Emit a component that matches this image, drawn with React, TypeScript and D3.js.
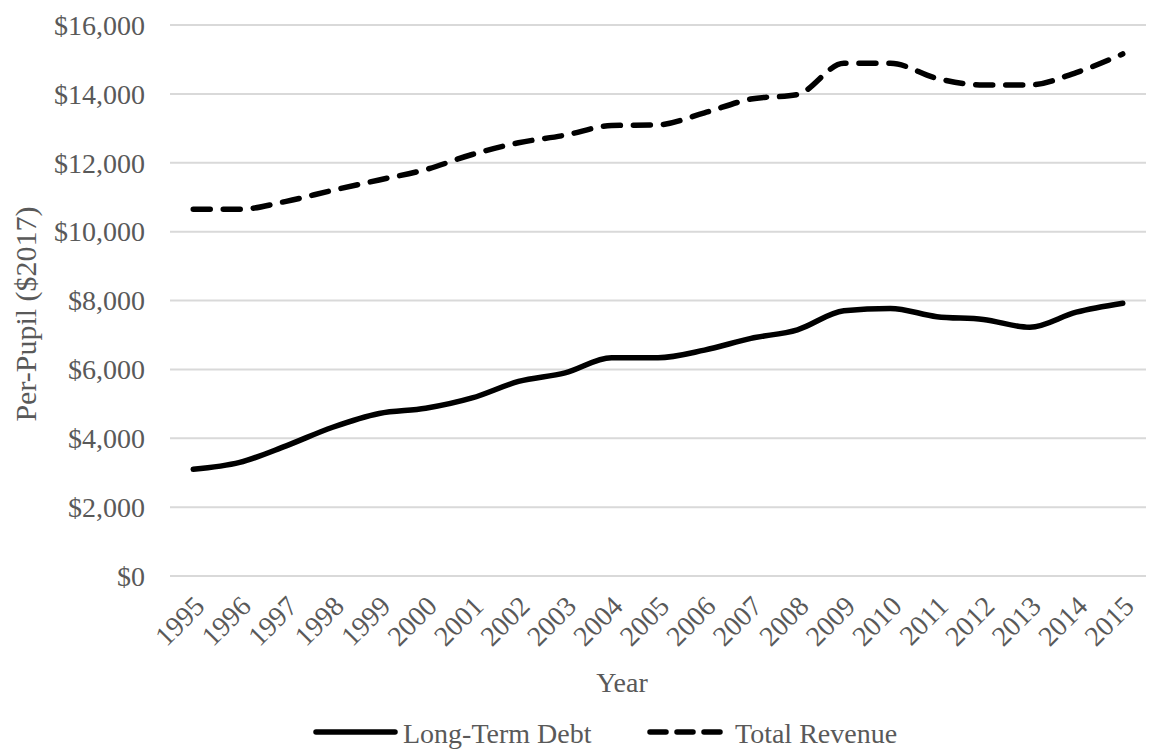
import React from "react";
import * as d3 from "d3";

const years = ["1995","1996","1997","1998","1999","2000","2001","2002","2003","2004","2005","2006","2007","2008","2009","2010","2011","2012","2013","2014","2015"];
const longTermDebt = [3100, 3300, 3780, 4320, 4720, 4870, 5170, 5650, 5900, 6340, 6340, 6560, 6900, 7150, 7700, 7770, 7530, 7450, 7220, 7660, 7920];
const totalRevenue = [10650, 10650, 10880, 11200, 11500, 11800, 12240, 12580, 12800, 13080, 13100, 13450, 13850, 13980, 14890, 14890, 14450, 14260, 14260, 14620, 15160];
const yTicks = [0, 2000, 4000, 6000, 8000, 10000, 12000, 14000, 16000];
const yTitle = "Per-Pupil ($2017)";
const xTitle = "Year";
const seriesNames = ["Long-Term Debt", "Total Revenue"];

const W = 1152, H = 751;
const FONT = "'Liberation Serif', 'Times New Roman', serif";
const TXT = "#595959";

export default function App() {
  const x = d3.scaleBand<string>().domain(years).range([170, 1146]).padding(0);
  const y = d3.scaleLinear().domain([0, 16000]).range([576, 25]);
  const cx = (d: string) => (x(d) as number) + x.bandwidth() / 2;
  const line = d3.line<number>().x((_, i) => cx(years[i])).y((v) => y(v)).curve(d3.curveMonotoneX);
  const fmt = (v: number) => "$" + d3.format(",")(v);

  return (
    <svg width={W} height={H} style={{ position: "absolute", left: 0, top: 0, background: "#fff" }} fontFamily={FONT}>
      {yTicks.map((t) => (
        <g key={t}>
          <line x1={170} x2={1146} y1={y(t)} y2={y(t)} stroke="#d9d9d9" strokeWidth={2} />
          <text x={145} y={y(t)} dy="0.35em" textAnchor="end" fontSize={28} fill={TXT}>{fmt(t)}</text>
        </g>
      ))}
      {years.map((yr) => (
        <text key={yr} transform={`translate(${cx(yr) + 6},${601}) rotate(-45)`} textAnchor="end" dy="0.35em" fontSize={28} fill={TXT}>{yr}</text>
      ))}
      <path d={line(longTermDebt) || ""} fill="none" stroke="#000" strokeWidth={5.5} strokeLinecap="round" strokeLinejoin="round" />
      <path d={line(totalRevenue) || ""} fill="none" stroke="#000" strokeWidth={5.5} strokeDasharray="17 13" strokeLinecap="round" strokeLinejoin="round" />
      <text transform={`translate(25,${314}) rotate(-90)`} textAnchor="middle" dy="0.35em" fontSize={30} fill={TXT}>{yTitle}</text>
      <text x={622} y={692} textAnchor="middle" fontSize={28} fill={TXT}>{xTitle}</text>
      <line x1={316} x2={395} y1={732} y2={732} stroke="#000" strokeWidth={5.5} strokeLinecap="round" />
      <text x={403} y={743} fontSize={28} fill={TXT}>{seriesNames[0]}</text>
      <line x1={650} x2={721} y1={732} y2={732} stroke="#000" strokeWidth={5.5} strokeLinecap="round" strokeDasharray="16 11" />
      <text x={735} y={743} fontSize={28} fill={TXT}>{seriesNames[1]}</text>
    </svg>
  );
}
